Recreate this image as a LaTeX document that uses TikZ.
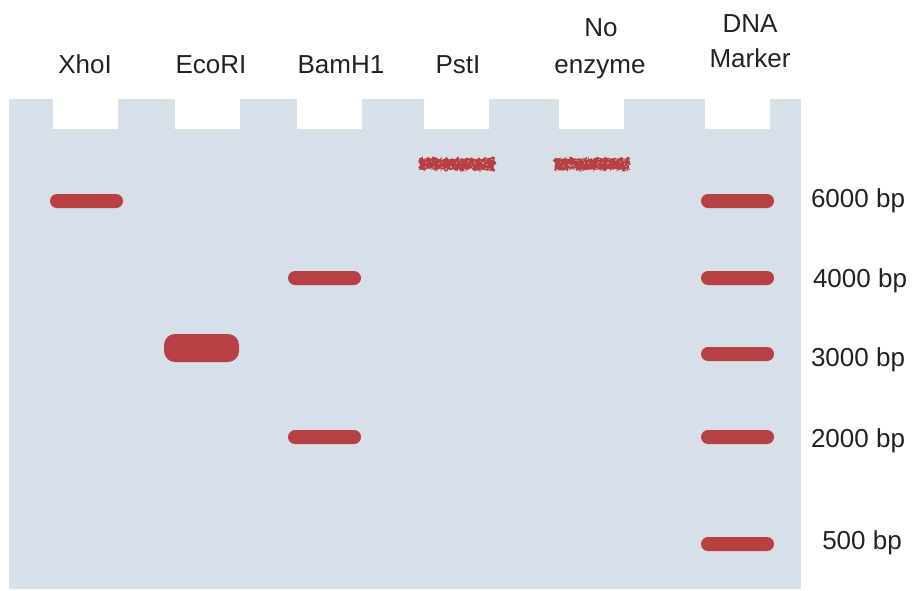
\documentclass[tikz,border=0pt]{standalone}
\usepackage{fontspec}
\setmainfont{Liberation Sans}
\usetikzlibrary{decorations.pathmorphing}
\definecolor{gel}{HTML}{D7DFE8}
\definecolor{band}{HTML}{B94042}
\definecolor{txt}{HTML}{222222}
\begin{document}
\begin{tikzpicture}[x=1pt,y=-1pt,
  lbl/.style={anchor=base, font=\fontsize{26}{30}\selectfont, text=txt, inner sep=0pt},
  thinband/.style={fill=band, rounded corners=7pt},
  thickband/.style={fill=band, rounded corners=11pt},
  fuzzy/.style={fill=band, decorate, decoration={random steps, segment length=1.5pt, amplitude=1.6pt}},
  speck/.style={fill=band!55!gel}]
\useasboundingbox (0,0) rectangle (912,590);
\pgfmathsetseed{7}
% gel with wells
\fill[gel] (9,99) rectangle (801,589);
\foreach \a in {53,175,297,424,559,705} \fill[white] (\a,99) rectangle ++(65,30);
% lane labels
\node[lbl] (l1) at (85,73) {XhoI};
\node[lbl] (l2) at (211,73) {EcoRI};
\node[lbl] (l3) at (341,73) {BamH1};
\node[lbl] (l4) at (458,73) {PstI};
\node[lbl] (l5a) at (601,36) {No};
\node[lbl] (l5b) at (600,73) {enzyme};
\node[lbl] (l6a) at (750,32) {DNA};
\node[lbl] (l6b) at (750,67) {Marker};
% size labels
\node[lbl] (s1) at (858,207) {6000 bp};
\node[lbl] (s2) at (860,287) {4000 bp};
\node[lbl] (s3) at (858,366) {3000 bp};
\node[lbl] (s4) at (858,447) {2000 bp};
\node[lbl] (s5) at (862,549) {500 bp};
% bands
\fill[thinband] (50,194) rectangle (123,208);
\fill[thickband] (164,334) rectangle (239,362);
\fill[thinband] (288,271) rectangle (361,285);
\fill[thinband] (288,430) rectangle (361,444);
\foreach \y in {201,278,354,437,544}
  \fill[thinband] (701,\y-7) rectangle (774,\y+7);
% fuzzy bands (uncut DNA)
\foreach \x in {419,554} {
  \fill[fuzzy] (\x,158) rectangle ++(76,12);
  \foreach \i in {1,...,45} {
    \pgfmathsetmacro\rx{\x+2+72*rnd}
    \pgfmathsetmacro\ry{157+14*rnd}
    \fill[speck] (\rx,\ry) rectangle ++(1.4,1.4);
  }
}
\end{tikzpicture}
\end{document}
